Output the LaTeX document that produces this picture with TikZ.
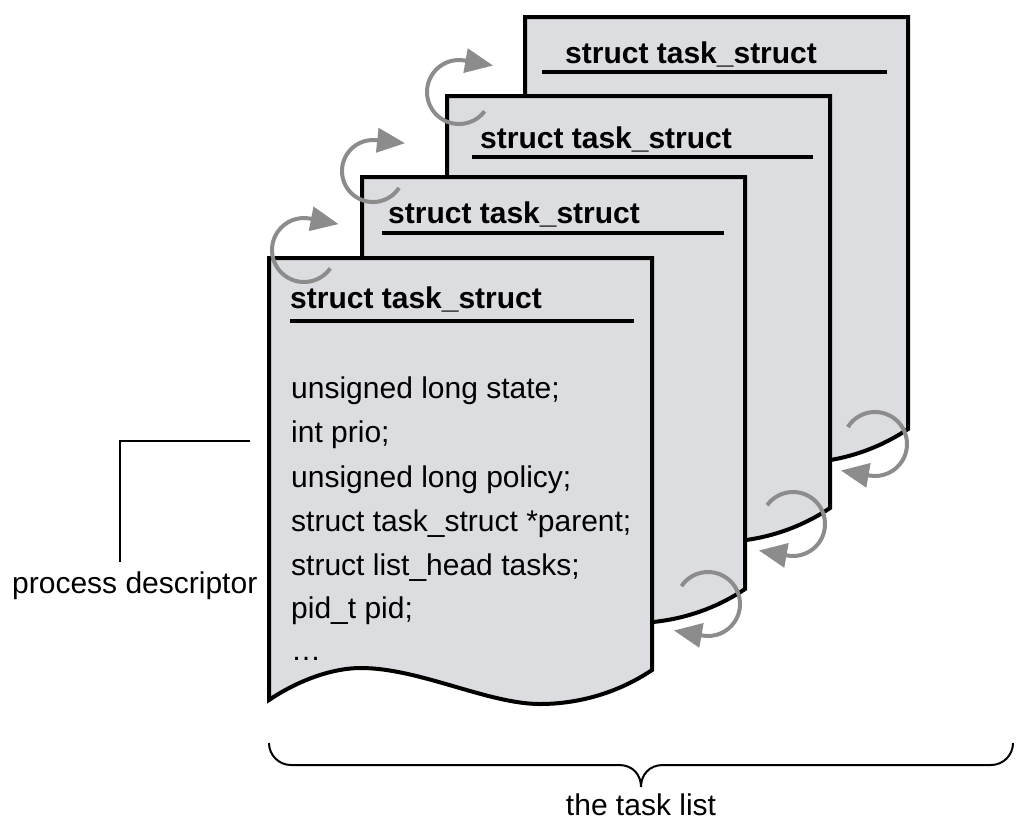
\documentclass[tikz,border=0pt]{standalone}
\usepackage{fontspec}
\setmainfont{Liberation Sans}
\usetikzlibrary{arrows.meta}
\definecolor{pagefill}{RGB}{220,221,224}
\definecolor{arrowgray}{RGB}{140,140,140}
\tikzset{
  pagebox/.style={draw=black, line width=4pt, fill=pagefill, line join=miter},
  titletext/.style={font=\fontsize{30}{36}\selectfont\bfseries, anchor=base west, inner sep=0pt},
  bodytext/.style={font=\fontsize{30}{36}\selectfont, anchor=base west, inner sep=0pt},
  titlerule/.style={line width=4pt},
  cyclearrow/.style={draw=arrowgray, line width=4pt, -{Triangle[length=28pt,width=24pt]}},
  thinline/.style={line width=2pt},
}
\newcommand\taskpage[2]{%
  \begin{scope}[shift={(#1,#2)}]
    \path[pagebox] (0,0) -- (383,0) -- (383,412)
      .. controls (349,435) and (309,446) .. (271,446)
      .. controls (219,446) and (150,410) .. (92,410)
      .. controls (60,410) and (25,425) .. (0,442) -- cycle;
  \end{scope}}
\begin{document}
\begin{tikzpicture}[x=1pt,y=-1pt]
  \useasboundingbox (0,0) rectangle (1024,836);
  % pages, back to front
  \taskpage{525}{17}
  \node[titletext] (t4) at (565,63) {struct task\_struct};
  \draw[titlerule] (542,72) -- (887,72);
  \taskpage{447}{96}
  \node[titletext] (t3) at (480,148) {struct task\_struct};
  \draw[titlerule] (472,157) -- (813,157);
  \taskpage{362}{177}
  \node[titletext] (t2) at (388,223) {struct task\_struct};
  \draw[titlerule] (382,233) -- (724,233);
  \taskpage{269}{258}
  \node[titletext] (t1) at (290,308) {struct task\_struct};
  \draw[titlerule] (290,321) -- (634,321);
  % fields
  \node[bodytext] (b1) at (291,398) {unsigned long state;};
  \node[bodytext] (b2) at (291,442) {int prio;};
  \node[bodytext] (b3) at (291,487) {unsigned long policy;};
  \node[bodytext] (b4) at (291,531) {struct task\_struct *parent;};
  \node[bodytext] (b5) at (291,575) {struct list\_head tasks;};
  \node[bodytext] (b6) at (291,618) {pid\_t pid;};
  \node[bodytext] (b7) at (291,660) {…};
  % process descriptor label
  \node[bodytext] (pd) at (12,593) {process descriptor};
  \coordinate (pdA) at (250,441);
  \coordinate (pdB) at (120,562);
  \draw[thinline] (pdA) -| (pdB);
  % brace
  \coordinate (brL) at (269,743);
  \coordinate (brT) at (641,787);
  \coordinate (brR) at (1013,743);
  \draw[thinline] (brL) arc[start angle=180, end angle=90, radius=22] -- (619,765)
    .. controls (633,765) and (641,775) .. (brT)
    .. controls (641,775) and (649,765) .. (663,765) -- (991,765)
    arc[start angle=90, end angle=0, radius=22];
  \node[bodytext, anchor=base] (tl) at (641,815) {the task list};
  % circular arrows
  \foreach \cx/\cy/\r/\s/\e in {304/250/32/35/281, 373/171/31/33/276, 459/92/32/37/280,
                                 708/604/32/214/460, 793/524/32/216/460, 875/444/32/212/460}
    \draw[cyclearrow] (\cx,\cy) ++(\s:\r) arc[start angle=\s, end angle=\e, radius=\r] -- ++(\e+90:29);
\end{tikzpicture}
\end{document}
